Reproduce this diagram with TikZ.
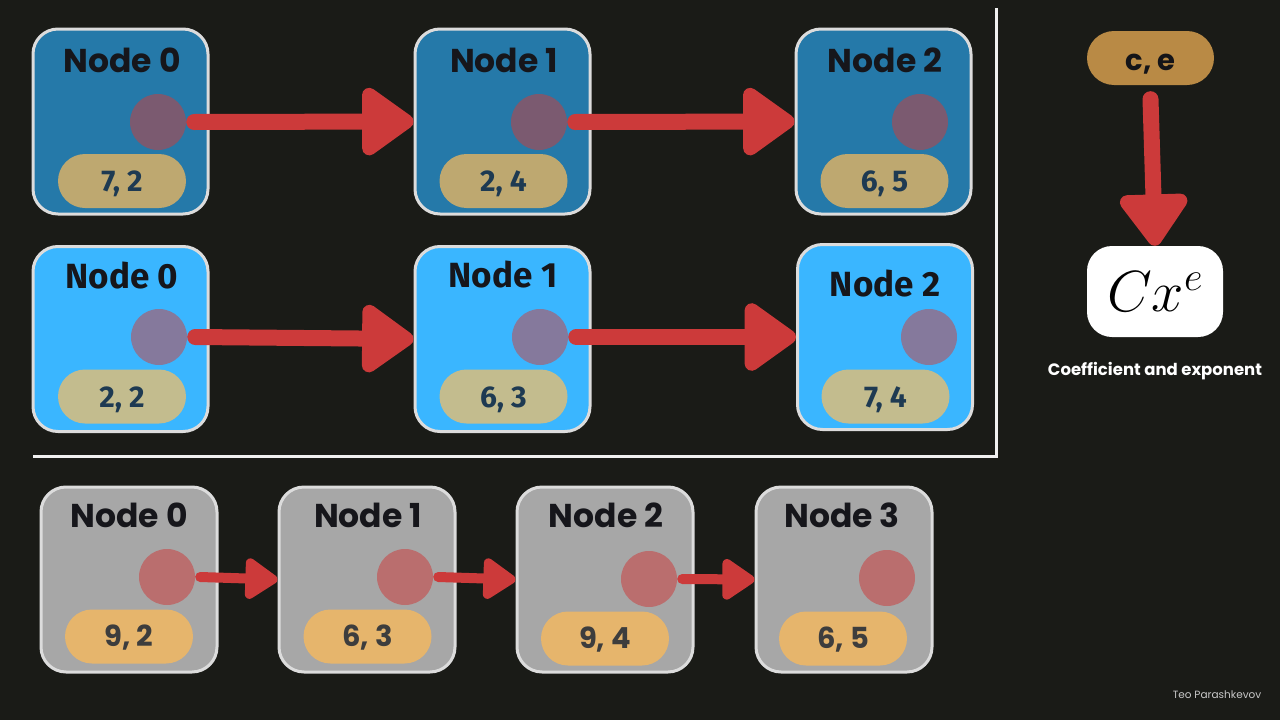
\RequirePackage{fix-cm}
\documentclass[tikz,border=0pt]{standalone}
\usepackage{fontspec}
\setmainfont{Poppins}
\newfontfamily\fira{Fira Sans}
\usetikzlibrary{arrows.meta}
\definecolor{bg}{HTML}{1A1B17}
\definecolor{bordc}{HTML}{DCDCDC}
\definecolor{topfill}{HTML}{2579A9}
\definecolor{midfill}{HTML}{3AB6FF}
\definecolor{grayfill}{HTML}{A7A7A7}
\definecolor{topdot}{HTML}{7B5A70}
\definecolor{middot}{HTML}{85799C}
\definecolor{graydot}{HTML}{BA6E6E}
\definecolor{toppill}{HTML}{BEA870}
\definecolor{midpill}{HTML}{C3BC8E}
\definecolor{graypill}{HTML}{E6B56C}
\definecolor{bluetxt}{HTML}{1E3A52}
\definecolor{graytxt}{HTML}{3D3D3D}
\definecolor{titlec}{HTML}{16161B}
\definecolor{arrcol}{HTML}{CC3A3A}
\definecolor{cefill}{HTML}{B98A45}
\definecolor{credc}{HTML}{C8C8C8}
\begin{document}
\begin{tikzpicture}[x=1pt,y=-1pt,
  box/.style={draw=bordc, line width=3pt, rounded corners=25pt, minimum width=175pt, minimum height=185pt, inner sep=0pt},
  topbox/.style={box, fill=topfill},
  midbox/.style={box, fill=midfill},
  graybox/.style={box, fill=grayfill, minimum width=176pt},
  dot/.style={circle, minimum size=56pt, inner sep=0pt},
  pill/.style={rounded corners=27pt, minimum width=128pt, minimum height=54pt, inner sep=0pt},
  bluepill/.style={pill, text=bluetxt, font=\fira\fontsize{30}{34}\selectfont\bfseries, text height=21pt, text depth=0pt},
  graypillst/.style={pill, fill=graypill, text=graytxt, font=\fontsize{29}{32}\selectfont\bfseries, text height=20pt, text depth=0pt},
  ttitle/.style={anchor=base, text=titlec, font=\fontsize{33}{36}\selectfont\bfseries},
  mtitle/.style={anchor=base, text=titlec, font=\fira\fontsize{35}{38}\selectfont\bfseries},
  arr/.style={draw=arrcol, line width=16pt, line cap=round, -{Triangle[length=57pt,width=77pt,round]}},
  sarr/.style={draw=arrcol, line width=10pt, line cap=round, -{Triangle[length=36pt,width=46pt,round]}},
  sep/.style={draw=white!94!black, line width=3pt}
]
\fill[bg] (0,0) rectangle (1280,720);
\useasboundingbox (0,0) rectangle (1280,720);

% separators
\draw[sep] (996,8) -- (996,457.5);
\draw[sep] (33,456) -- (997.5,456);

% top row
\node[topbox] (t0) at (120.5,121.5) {};
\node[topbox] (t1) at (502.5,121.5) {};
\node[topbox] (t2) at (883.5,121.5) {};
\node[ttitle] (t0t) at (122,72) {Node 0};
\node[ttitle] (t1t) at (504,72) {Node 1};
\node[ttitle] (t2t) at (885,72) {Node 2};
\node[dot, fill=topdot] (t0c) at (158,122) {};
\node[dot, fill=topdot] (t1c) at (539,122) {};
\node[dot, fill=topdot] (t2c) at (920,122) {};
\node[bluepill, fill=toppill] (t0p) at (122,181) {7, 2};
\node[bluepill, fill=toppill] (t1p) at (503.5,181) {2, 4};
\node[bluepill, fill=toppill] (t2p) at (884.5,181) {6, 5};

% middle row
\node[midbox] (m0) at (120.5,339) {};
\node[midbox] (m1) at (502.5,339) {};
\node[midbox] (m2) at (885,337) {};
\node[mtitle] (m0t) at (122,288) {Node 0};
\node[mtitle] (m1t) at (503,287) {Node 1};
\node[mtitle] (m2t) at (885,296) {Node 2};
\node[dot, fill=middot] (m0c) at (159,337) {};
\node[dot, fill=middot] (m1c) at (540,337) {};
\node[dot, fill=middot] (m2c) at (929,337) {};
\node[bluepill, fill=midpill] (m0p) at (122,396.5) {2, 2};
\node[bluepill, fill=midpill] (m1p) at (503.5,396.5) {6, 3};
\node[bluepill, fill=midpill] (m2p) at (885.5,396.5) {7, 4};

% bottom row
\node[graybox] (b0) at (129,579.5) {};
\node[graybox] (b1) at (367,579.5) {};
\node[graybox] (b2) at (605,579.5) {};
\node[graybox] (b3) at (844,579.5) {};
\node[ttitle] (b0t) at (129,527) {Node 0};
\node[ttitle] (b1t) at (368,527) {Node 1};
\node[ttitle] (b2t) at (606,527) {Node 2};
\node[ttitle] (b3t) at (842,527) {Node 3};
\node[dot, fill=graydot] (b0c) at (167,577) {};
\node[dot, fill=graydot] (b1c) at (405,577) {};
\node[dot, fill=graydot] (b2c) at (649,579) {};
\node[dot, fill=graydot] (b3c) at (887,578) {};
\node[graypillst] (b0p) at (129,636.5) {9, 2};
\node[graypillst] (b1p) at (367.5,636.5) {6, 3};
\node[graypillst] (b2p) at (605,638.5) {9, 4};
\node[graypillst] (b3p) at (843,638.5) {6, 5};

% arrows
\draw[arr] ([xshift=8pt]t0c.east) -- (t1.west);
\draw[arr] ([xshift=8pt]t1c.east) -- (t2.west);
\draw[arr] ([xshift=8pt]m0c.east) -- (m1.west);
\draw[arr] ([xshift=8pt]m1c.east) -- (m2.west);
\draw[sarr] ([xshift=5pt]b0c.east) -- (b1.west);
\draw[sarr] ([xshift=5pt]b1c.east) -- (b2.west);
\draw[sarr] ([xshift=5pt]b2c.east) -- (b3.west);

% right side
\node[pill, fill=cefill, minimum width=127pt, text=titlec!90!black, font=\fontsize{29}{32}\selectfont\bfseries, text height=24pt, text depth=0pt] (ce) at (1150.5,58) {c, e};
\node[fill=white, rounded corners=25pt, minimum width=136pt, minimum height=91pt, inner sep=0pt] (cx) at (1155,291.5) {\fontsize{58}{64}\selectfont$Cx^e$};
\draw[arr] ([yshift=-14pt]ce.south) -- (cx.north);
\node[anchor=base, text=white, font=\fontsize{16.5}{19}\selectfont\bfseries] (cap) at (1155,375) {Coefficient and exponent};
\node[anchor=base, text=credc, font=\fontsize{10.5}{12}\selectfont] (cred) at (1217,698) {Teo Parashkevov};
\end{tikzpicture}
\end{document}
